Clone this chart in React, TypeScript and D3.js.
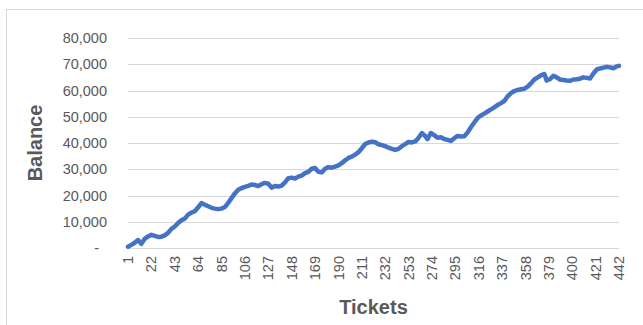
import * as d3 from 'd3';

const tickets = [
  1, 4, 7, 10, 13, 16, 19, 22, 25, 28, 31, 34, 37, 40, 43, 46, 49, 52, 55, 58,
  61, 64, 67, 70, 73, 76, 79, 82, 85, 88, 91, 94, 97, 100, 103, 106, 109, 112, 115, 118,
  121, 124, 127, 130, 133, 136, 139, 142, 145, 148, 151, 154, 157, 160, 163, 166, 169, 172, 175, 178,
  181, 184, 187, 190, 193, 196, 199, 202, 205, 208, 211, 214, 217, 220, 223, 226, 229, 232, 235, 238,
  241, 244, 247, 250, 253, 256, 259, 262, 265, 268, 270, 273, 276, 279, 282, 285, 288, 291, 294, 297,
  300, 303, 306, 309, 312, 315, 318, 321, 324, 327, 330, 333, 336, 339, 342, 345, 348, 351, 354, 357,
  360, 363, 366, 369, 372, 375, 377, 380, 383, 386, 389, 392, 395, 398, 401, 404, 407, 410, 413, 416,
  419, 422, 425, 428, 431, 434, 437, 440, 442,
];

const balance = [
  500, 1200, 2000, 3000, 1600, 3500, 4400, 5000, 4600, 4200, 4300, 4800, 5800, 7300, 8200, 9500, 10600, 11200, 12700, 13500,
  14000, 15500, 17100, 16500, 15900, 15300, 15000, 14800, 15000, 15600, 17200, 19000, 20800, 22200, 22800, 23300, 23700, 24200, 24000, 23600,
  24300, 24800, 24500, 23000, 23600, 23400, 23800, 25000, 26600, 26800, 26500, 27200, 27600, 28500, 29000, 30200, 30500, 29000, 28800, 30200,
  30800, 30600, 31000, 31500, 32300, 33400, 34300, 34800, 35600, 36500, 38000, 39600, 40200, 40500, 40300, 39500, 39200, 38800, 38200, 37800,
  37400, 37800, 38800, 39600, 40400, 40200, 40600, 42000, 43800, 42600, 41500, 43800, 43000, 42000, 42200, 41500, 41200, 40800, 41800, 42700,
  42500, 42600, 44000, 46000, 47800, 49500, 50500, 51200, 52000, 52800, 53600, 54500, 55200, 56000, 57800, 59000, 59800, 60200, 60500, 60700,
  61500, 62800, 64200, 65000, 65800, 66300, 63800, 64300, 65600, 65000, 64200, 64000, 63800, 63700, 64200, 64300, 64500, 65000, 64800, 64600,
  66500, 68000, 68400, 68700, 69000, 68800, 68500, 69200, 69400,
];

const xTickLabels = [1, 22, 43, 64, 85, 106, 127, 148, 169, 190, 211, 232, 253, 274, 295, 316, 337, 358, 379, 400, 421, 442];
const yTicks = [0, 10000, 20000, 30000, 40000, 50000, 60000, 70000, 80000];

const W = 643;
const H = 325;
const plot = { left: 128, right: 619, top: 38, bottom: 248 };
const font = '"Liberation Sans", Arial, sans-serif';

export default function App() {
  const x = d3.scaleLinear().domain([1, 442]).range([plot.left, plot.right]);
  const y = d3.scaleLinear().domain([0, 80000]).range([plot.bottom, plot.top]);

  const points = tickets.map((t, i) => ({ t, v: balance[i] }));
  const line = d3.line<{ t: number; v: number }>()
    .x(d => x(d.t))
    .y(d => y(d.v));

  const fmt = d3.format(',');

  return (
    <svg width={W} height={H} style={{ position: 'absolute', left: 0, top: 0 }}>
      <rect x={0} y={0} width={W} height={H} fill="#fff" />
      <rect x={6.5} y={9.5} width={W + 20} height={H + 20} fill="none" stroke="#d9d9d9" />

      {/* gridlines */}
      {yTicks.map(v => (
        <line key={v} x1={plot.left} x2={plot.right} y1={Math.round(y(v)) + 0.5} y2={Math.round(y(v)) + 0.5}
          stroke="#d9d9d9" strokeWidth={1} />
      ))}

      {/* y tick labels */}
      {yTicks.map(v => (
        <text key={v} x={v === 0 ? 99 : 107} y={y(v)} dy="0.35em" textAnchor="end"
          fontFamily={font} fontSize={14.5} fill="#595959">
          {v === 0 ? '-' : fmt(v)}
        </text>
      ))}

      {/* x tick labels */}
      {xTickLabels.map(t => (
        <text key={t} transform={`translate(${x(t)},256) rotate(-90)`} dy="0.35em" textAnchor="end"
          fontFamily={font} fontSize={14.5} fill="#595959">
          {t}
        </text>
      ))}

      <path d={line(points) ?? ''} fill="none" stroke="#4472c4" strokeWidth={4.5}
        strokeLinejoin="round" strokeLinecap="round" />

      {/* axis titles */}
      <text transform={`translate(42,${(plot.top + plot.bottom) / 2}) rotate(-90)`} textAnchor="middle"
        fontFamily={font} fontSize={20} fontWeight="bold" fill="#595959">
        Balance
      </text>
      <text x={(plot.left + plot.right) / 2} y={314} textAnchor="middle"
        fontFamily={font} fontSize={20} fontWeight="bold" fill="#595959">
        Tickets
      </text>
    </svg>
  );
}
